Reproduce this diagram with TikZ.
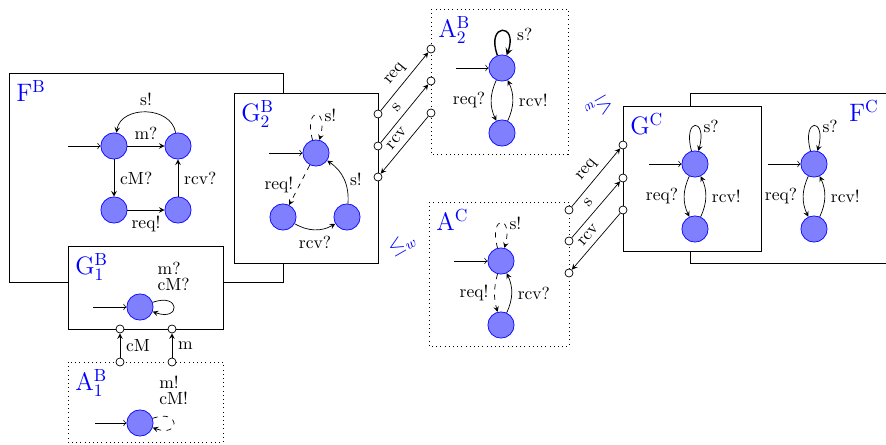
\documentclass[tikz,border=0pt]{standalone}
\usetikzlibrary{arrows}
\begin{document}
\begin{tikzpicture}[x=0.5714pt,y=-0.5714pt,
  st/.style={circle,draw=blue,fill=blue!50,minimum size=15pt,inner sep=0pt},
  port/.style={circle,draw,fill=white,minimum size=4.6pt,inner sep=0pt},
  tr/.style={-stealth},
  ini/.style={->},
  ttl/.style={text=blue,font=\Large,anchor=north west,inner sep=4pt},
  fbox/.style={draw,fill=white},
  dbox/.style={draw,dotted},
  rel/.style={text=blue,font=\large},
  lpup/.style={out=105,in=75,min distance=7mm,looseness=8},
  lpright/.style={out=20,in=-20,min distance=6mm,looseness=8}
]
\useasboundingbox (0,0) rectangle (886,445);

% ---------- boxes of B ----------
\draw[fbox] (9,73) rectangle (283,282);
\node[ttl] (tFB) at (9,73) {$\mathrm{F}^{\mathrm{B}}$};
\draw[fbox] (234,93) rectangle (378,263);
\node[ttl] (tG2) at (234,93) {$\mathrm{G}^{\mathrm{B}}_{2}$};
\draw[fbox] (68,246) rectangle (223,329);
\node[ttl] (tG1) at (68,246) {$\mathrm{G}^{\mathrm{B}}_{1}$};
\draw[dbox] (68,362) rectangle (223,442);
\node[ttl] (tA1) at (68,362) {$\mathrm{A}^{\mathrm{B}}_{1}$};
\draw[dbox] (431,9) rectangle (568,154);
\node[ttl] (tA2) at (431,9) {$\mathrm{A}^{\mathrm{B}}_{2}$};

% ---------- boxes of C ----------
\draw[dbox] (429,202) rectangle (569,346);
\node[ttl] (tAC) at (429,202) {$\mathrm{A}^{\mathrm{C}}$};
\draw[fbox] (886,93) -- (690,93) -- (690,263) -- (886,263);
\node[ttl,anchor=north east] (tFC) at (886,93) {$\mathrm{F}^{\mathrm{C}}$};
\draw[fbox] (623,106) rectangle (761,251);
\node[ttl] (tGC) at (623,106) {$\mathrm{G}^{\mathrm{C}}$};

% ---------- F^B ----------
\node[st] (fa) at (114,146) {};
\node[st] (fb) at (178,146) {};
\node[st] (fc) at (114,210) {};
\node[st] (fd) at (178,210) {};
\coordinate (fi) at (68,146);
\draw[ini] (fi) -- (fa);
\draw[tr] (fa) -- node[above] (lfa) {m?} (fb);
\draw[tr] (fb) to[bend right=80,looseness=1.2] node[above] (lfb) {s!} (fa);
\draw[tr] (fa) -- node[right] (lfc) {cM?} (fc);
\draw[tr] (fc) -- node[below] (lfd) {req!} (fd);
\draw[tr] (fd) -- node[right] (lfe) {rcv?} (fb);

% ---------- G1^B ----------
\node[st] (g1) at (140,307) {};
\coordinate (g1i) at (93,307);
\draw[ini] (g1i) -- (g1);
\draw[tr] (g1) to[lpright] node[above=6pt,align=left] (lg1) {m?\\[-3pt]cM?} (g1);

% ---------- A1^B ----------
\node[st] (a1) at (140,423) {};
\coordinate (a1i) at (95,423);
\draw[ini] (a1i) -- (a1);
\draw[tr,dashed] (a1) to[lpright] node[above=7pt,align=left] (la1) {m!\\[-3pt]cM!} (a1);

% ports G1 / A1
\node[port] (g1p1) at (120,329) {};
\node[port] (g1p2) at (172,329) {};
\node[port] (a1p1) at (120,362) {};
\node[port] (a1p2) at (172,362) {};
\draw[tr] (a1p1) -- node[right] (lp1) {cM} (g1p1);
\draw[tr] (a1p2) -- node[right] (lp2) {m} (g1p2);

% ---------- G2^B ----------
\node[st] (ga) at (316,153) {};
\node[st] (gb) at (283,217) {};
\node[st] (gc) at (347,217) {};
\coordinate (g2i) at (269,153);
\draw[ini] (g2i) -- (ga);
\draw[tr,dashed] (ga) to[lpup] node[right,pos=0.6] (lg2a) {s!} (ga);
\draw[tr,dashed] (ga) -- node[left] (lg2b) {req!} (gb);
\draw[tr] (gb) to[bend right=30] node[below] (lg2c) {rcv?} (gc);
\draw[tr] (gc) to[bend right=30] node[right] (lg2d) {s!} (ga);

% ---------- A2^B ----------
\node[st] (aa) at (502,68) {};
\node[st] (ab) at (502,133) {};
\coordinate (a2i) at (456,68);
\draw[ini] (a2i) -- (aa);
\draw[tr,thick] (aa) to[lpup,out=110,in=70] node[right,pos=0.68,xshift=2pt] (la2a) {s?} (aa);
\draw[tr] (aa) to[bend right=25] node[left] (la2b) {req?} (ab);
\draw[tr] (ab) to[bend right=25] node[right] (la2c) {rcv!} (aa);

% ports G2 / A2
\node[port] (p21) at (378,114) {};
\node[port] (p22) at (378,146) {};
\node[port] (p23) at (378,177) {};
\node[port] (a21) at (431,49) {};
\node[port] (a22) at (431,81) {};
\node[port] (a23) at (431,113) {};
\draw[tr] (p21) -- node[sloped,above] (lq1) {req} (a21);
\draw[tr] (p22) -- node[sloped,above] (lq2) {s} (a22);
\draw[tr] (a23) -- node[sloped,above] (lq3) {rcv} (p23);

% ---------- A^C ----------
\node[st] (ca) at (501,261) {};
\node[st] (cb) at (501,325) {};
\coordinate (aci) at (454,261);
\draw[ini] (aci) -- (ca);
\draw[tr,dashed] (ca) to[lpup] node[right,pos=0.6] (lca) {s!} (ca);
\draw[tr,dashed] (ca) to[bend right=15] node[left] (lcb) {req!} (cb);
\draw[tr] (cb) to[bend right=25] node[right] (lcc) {rcv?} (ca);

% ---------- G^C ----------
\node[st] (gca) at (695,164) {};
\node[st] (gcb) at (695,229) {};
\coordinate (gci) at (649,164);
\draw[ini] (gci) -- (gca);
\draw[tr] (gca) to[lpup] node[right,pos=0.6] (lgca) {s?} (gca);
\draw[tr] (gca) to[bend right=25] node[left] (lgcb) {req?} (gcb);
\draw[tr] (gcb) to[bend right=25] node[right] (lgcc) {rcv!} (gca);

% ---------- F^C ----------
\node[st] (fca) at (814,164) {};
\node[st] (fcb) at (814,229) {};
\coordinate (fci) at (768,164);
\draw[ini] (fci) -- (fca);
\draw[tr] (fca) to[lpup] node[right,pos=0.6] (lfca) {s?} (fca);
\draw[tr] (fca) to[bend right=25] node[left] (lfcb) {req?} (fcb);
\draw[tr] (fcb) to[bend right=25] node[right] (lfcc) {rcv!} (fca);

% ports A^C / G^C
\node[port] (gp1) at (623,145) {};
\node[port] (gp2) at (623,178) {};
\node[port] (gp3) at (623,210) {};
\node[port] (cp1) at (569,210) {};
\node[port] (cp2) at (569,241) {};
\node[port] (cp3) at (569,273) {};
\draw[tr] (cp1) -- node[sloped,above] (lr1) {req} (gp1);
\draw[tr] (cp2) -- node[sloped,above] (lr2) {s} (gp2);
\draw[tr] (gp3) -- node[sloped,above] (lr3) {rcv} (cp3);

% ---------- relations ----------
\node[rel,rotate=30] (le1) at (402,244) {$\leq_w$};
\node[rel,rotate=-150] (le2) at (599,108) {$\leq_w$};
\end{tikzpicture}
\end{document}
